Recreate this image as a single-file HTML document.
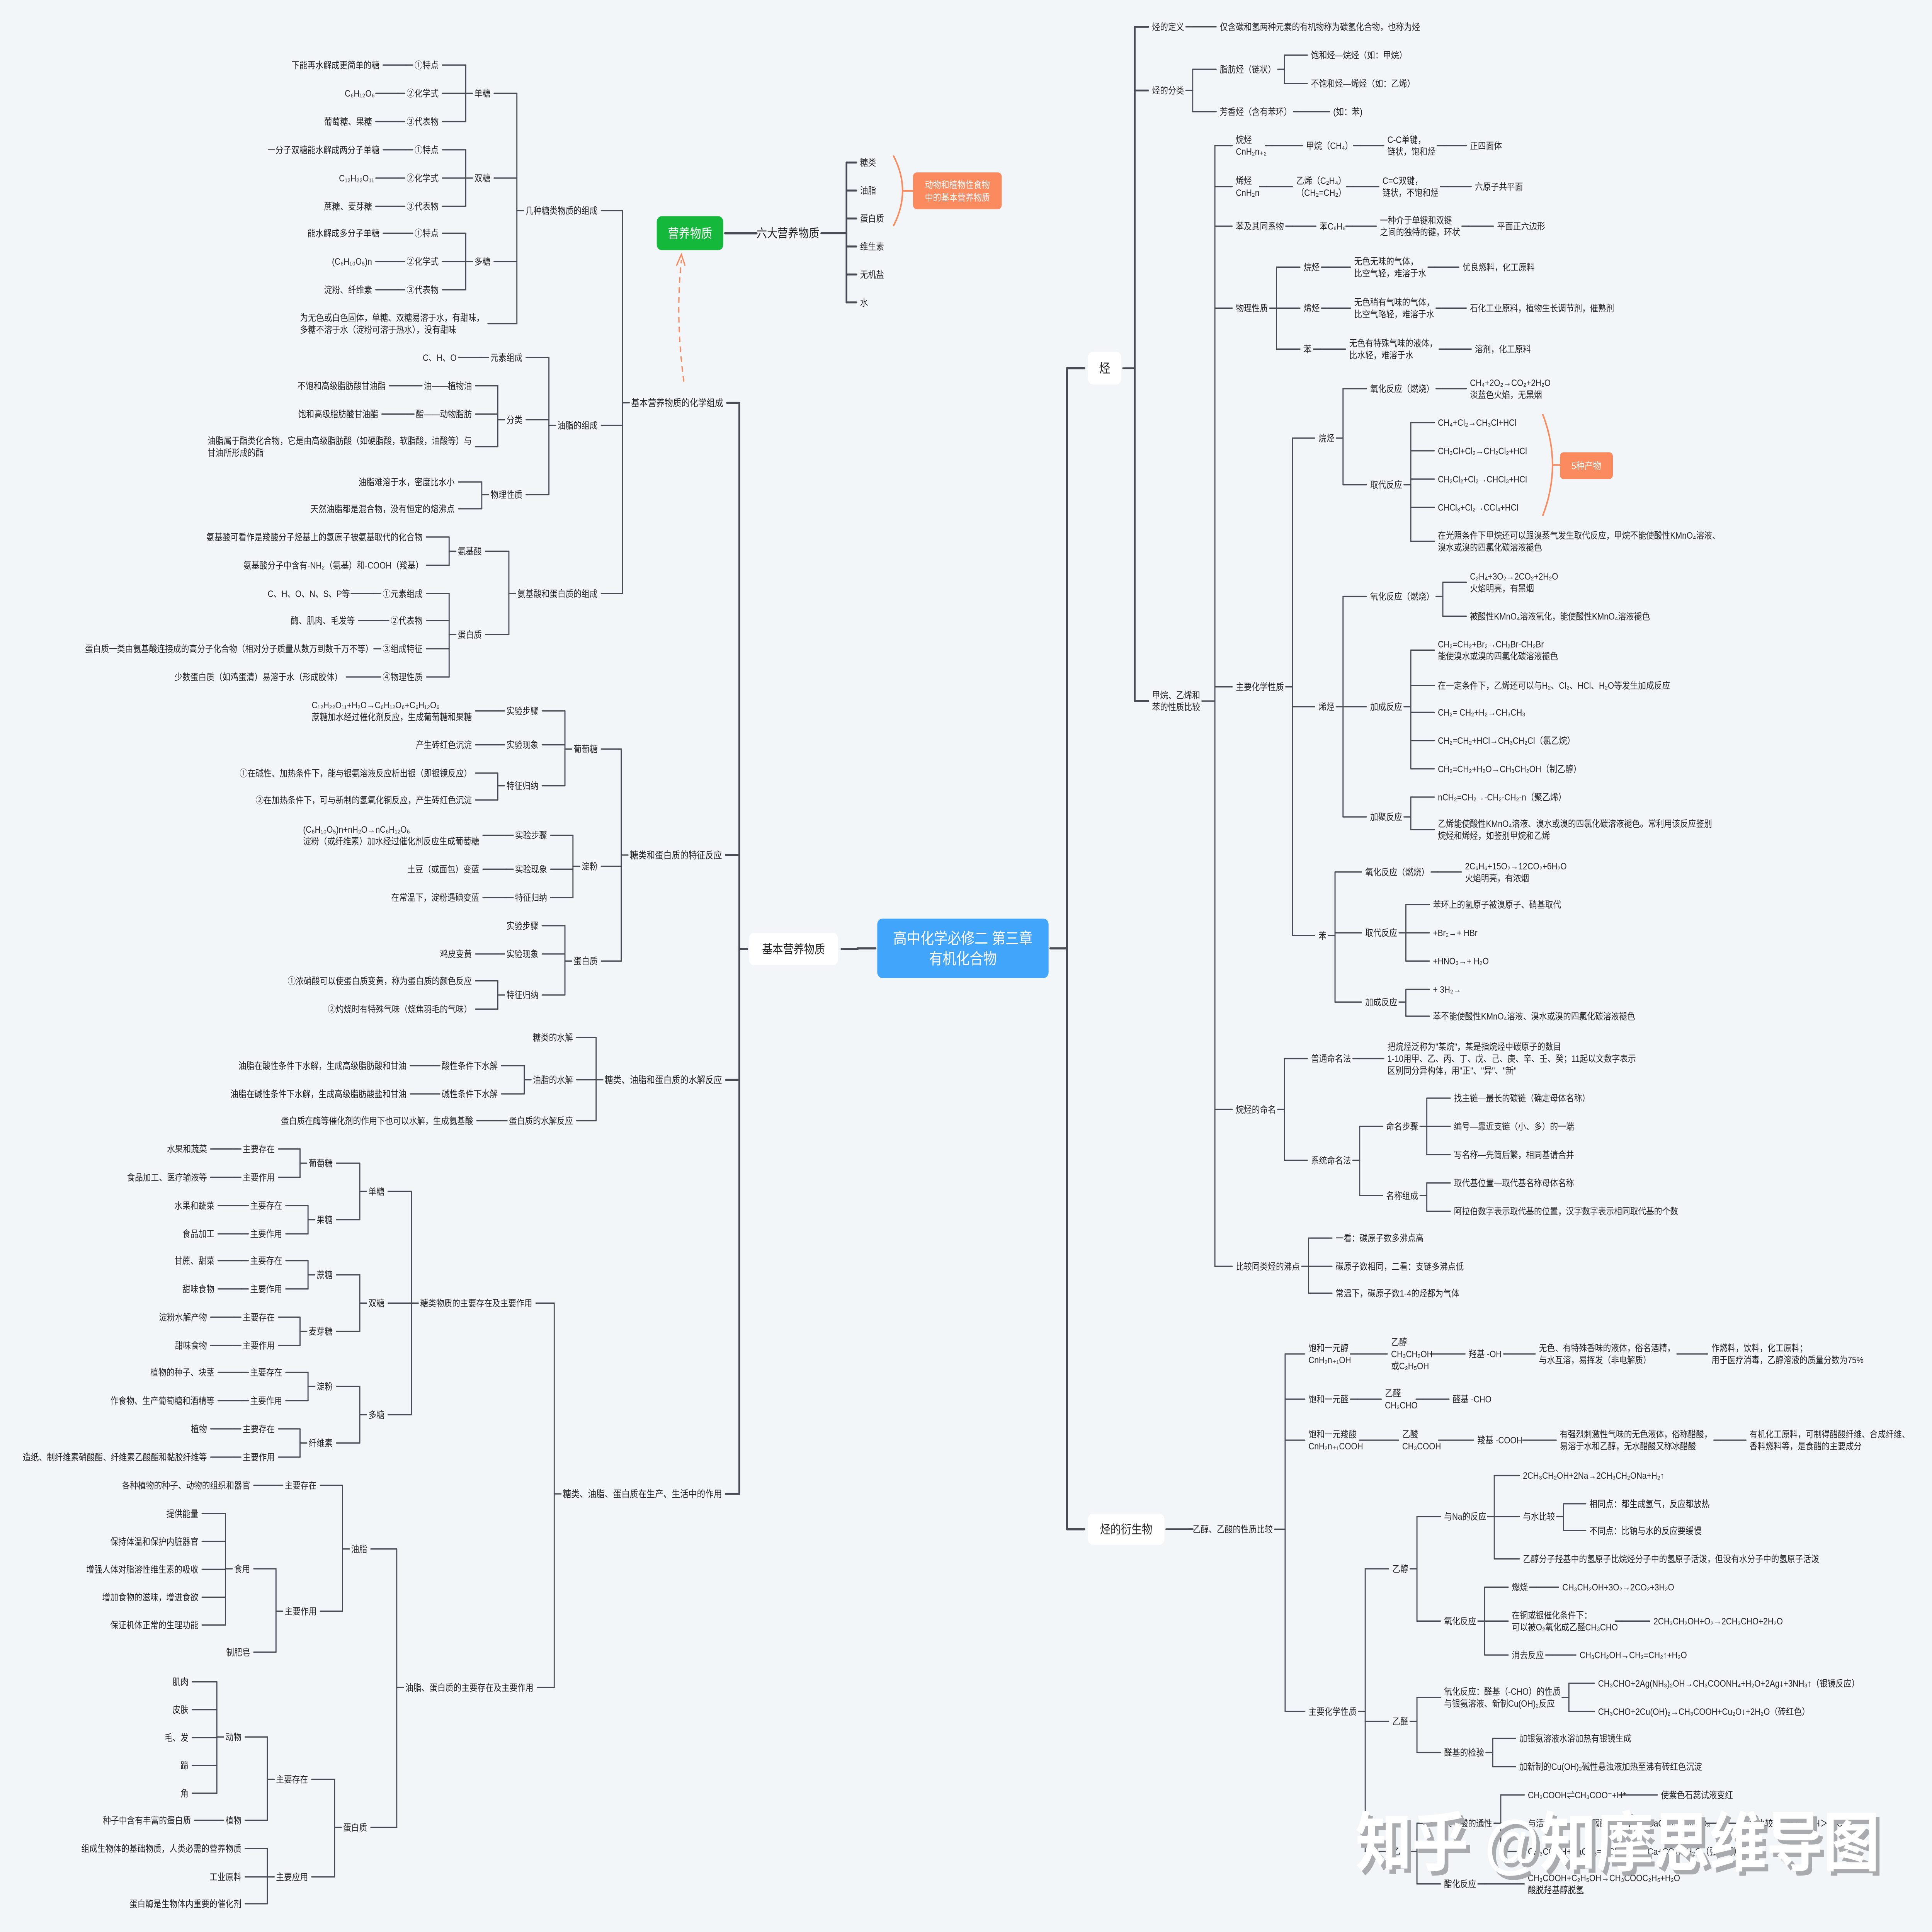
<!DOCTYPE html>
<html><head><meta charset="utf-8">
<style>
html,body{margin:0;padding:0;background:#f3f6f9;width:100%;height:100%;overflow:hidden;}
svg{display:block;position:absolute;left:0;top:0;width:100vw;height:100vh;}
text{font-family:"Liberation Sans","Noto Sans CJK SC",sans-serif;fill:#222;}
</style></head>
<body>
<svg id="s" xmlns="http://www.w3.org/2000/svg" viewBox="0 0 1568 1367" preserveAspectRatio="none">
<rect width="1568" height="1367" fill="#f3f6f9"/>
<g id="gl" fill="none" stroke="#474c55" stroke-linecap="round" stroke-linejoin="round"></g>
<g id="gt"></g>
<path d="M725,110 Q740,135 725,160" fill="none" stroke="#fb8a5e" stroke-width="1.2"/>
<path d="M733,135 H741" stroke="#fb8a5e" stroke-width="1.2"/>
<rect x="741" y="122" width="72" height="26" rx="3" fill="#fb8a5e"/>
<text x="777" y="133" font-size="6.6" text-anchor="middle" style="fill:#fff">动物和植物性食物</text>
<text x="777" y="142" font-size="6.6" text-anchor="middle" style="fill:#fff">中的基本营养物质</text>
<path d="M1252,293 Q1268,329 1252,365" fill="none" stroke="#fb8a5e" stroke-width="1.2"/>
<path d="M1260,329 H1266" stroke="#fb8a5e" stroke-width="1.2"/>
<rect x="1266" y="320" width="43" height="19" rx="3" fill="#fb8a5e"/>
<text x="1287.5" y="332" font-size="6.8" text-anchor="middle" style="fill:#fff">5种产物</text>
<path d="M555,270 Q548,225 553,184" fill="none" stroke="#fb8a5e" stroke-width="1" stroke-dasharray="4,3"/>
<path d="M549,188 L553,180 L556,188" fill="none" stroke="#fb8a5e" stroke-width="1"/>
<g font-size="46" font-weight="bold">
<text x="1103" y="1323" style="fill:#a9abae">知乎 @知摩思维导图</text>
<text x="1100" y="1320" style="fill:#ffffff">知乎 @知摩思维导图</text>
</g>
<text id="err" x="10" y="700" font-size="20" style="fill:red"></text>
</svg>
<script>
(function(){
try{
var nodes=[];
function n(p,x,y,t,o){nodes.push({p:p,x:x,y:y,t:t,o:o||{}});return nodes.length-1;}
var NS='http://www.w3.org/2000/svg';
var C=n(-1,0,671,'高中化学必修二 第三章|有机化合物',{rect:[712,650,851,692],fill:'#42a5fc',tc:'#fff',fs:11,side:'R',gapL:16,gapR:15,sw:1.6});
var B=n(C,0,671,'基本营养物质',{rect:[608,660,680,683],fill:'#fff',fs:8.5,side:'L',gap:8,sw:1.4});
var c1=n(B,587,285,'基本营养物质的化学组成',{fs:6.8});
var g1=n(c1,485,149,'几种糖类物质的组成');
var s1=n(g1,398,66,'单糖'),s2=n(g1,398,126,'双糖'),s3=n(g1,398,185,'多糖');
n(g1,393,229,'为无色或白色固体，单糖、双糖易溶于水，有甜味，|多糖不溶于水（淀粉可溶于热水），没有甜味');
n(n(s1,356,46,'①特点'),308,46,'下能再水解成更简单的糖');
n(n(s1,356,66,'②化学式'),302,66,'C₆H₁₂O₆');
n(n(s1,356,86,'③代表物'),302,86,'葡萄糖、果糖');
n(n(s2,356,106,'①特点'),308,106,'一分子双糖能水解成两分子单糖');
n(n(s2,356,126,'②化学式'),302,126,'C₁₂H₂₂O₁₁');
n(n(s2,356,146,'③代表物'),302,146,'蔗糖、麦芽糖');
n(n(s3,356,165,'①特点'),308,165,'能水解成多分子单糖');
n(n(s3,356,185,'②化学式'),302,185,'(C₆H₁₀O₅)n');
n(n(s3,356,205,'③代表物'),302,205,'淀粉、纤维素');
var g2=n(c1,485,301,'油脂的组成');
n(n(g2,424,253,'元素组成'),369,253,'C、H、O');
var fl=n(g2,424,297,'分类');
n(n(fl,383,273,'油——植物油'),313,273,'不饱和高级脂肪酸甘油酯');
n(n(fl,383,293,'酯——动物脂肪'),307,293,'饱和高级脂肪酸甘油酯');
n(fl,383,316,'油脂属于酯类化合物，它是由高级脂肪酸（如硬脂酸，软脂酸，油酸等）与|甘油所形成的酯');
var wl=n(g2,424,350,'物理性质');
n(wl,369,341,'油脂难溶于水，密度比水小');n(wl,369,360,'天然油脂都是混合物，没有恒定的熔沸点');
var g3=n(c1,485,420,'氨基酸和蛋白质的组成');
var aj=n(g3,391,390,'氨基酸');
n(aj,343,380,'氨基酸可看作是羧酸分子烃基上的氢原子被氨基取代的化合物');
n(aj,343,400,'氨基酸分子中含有-NH₂（氨基）和-COOH（羧基）');
var db=n(g3,391,449,'蛋白质');
n(n(db,343,420,'①元素组成'),282,420,'C、H、O、N、S、P等');
n(n(db,343,439,'②代表物'),288,439,'酶、肌肉、毛发等');
n(n(db,343,459,'③组成特征'),303,459,'蛋白质一类由氨基酸连接成的高分子化合物（相对分子质量从数万到数千万不等）');
n(n(db,343,479,'④物理性质'),278,479,'少数蛋白质（如鸡蛋清）易溶于水（形成胶体）');
var c2=n(B,586,605,'糖类和蛋白质的特征反应',{fs:6.8});
var pt=n(c2,485,530,'葡萄糖');
n(n(pt,437,503,'实验步骤'),383,503,'C₁₂H₂₂O₁₁+H₂O→C₆H₁₂O₆+C₆H₁₂O₆|蔗糖加水经过催化剂反应，生成葡萄糖和果糖');
n(n(pt,437,527,'实验现象'),383,527,'产生砖红色沉淀');
var tz=n(pt,437,556,'特征归纳');
n(tz,383,547,'①在碱性、加热条件下，能与银氨溶液反应析出银（即银镜反应）');
n(tz,383,566,'②在加热条件下，可与新制的氢氧化铜反应，产生砖红色沉淀');
var df=n(c2,485,613,'淀粉');
n(n(df,444,591,'实验步骤'),389,591,'(C₆H₁₀O₅)n+nH₂O→nC₆H₁₂O₆|淀粉（或纤维素）加水经过催化剂反应生成葡萄糖');
n(n(df,444,615,'实验现象'),389,615,'土豆（或面包）变蓝');
n(n(df,444,635,'特征归纳'),389,635,'在常温下，淀粉遇碘变蓝');
var db2=n(c2,485,680,'蛋白质');
n(db2,437,655,'实验步骤');
n(n(db2,437,675,'实验现象'),383,675,'鸡皮变黄');
var tz2=n(db2,437,704,'特征归纳');
n(tz2,383,694,'①浓硝酸可以使蛋白质变黄，称为蛋白质的颜色反应');
n(tz2,383,714,'②灼烧时有特殊气味（烧焦羽毛的气味）');
var c3=n(B,586,764,'糖类、油脂和蛋白质的水解反应',{fs:6.8});
n(c3,465,734,'糖类的水解');
var yz=n(c3,465,764,'油脂的水解');
n(n(yz,404,754,'酸性条件下水解'),330,754,'油脂在酸性条件下水解，生成高级脂肪酸和甘油');
n(n(yz,404,774,'碱性条件下水解'),330,774,'油脂在碱性条件下水解，生成高级脂肪酸盐和甘油');
n(n(c3,465,793,'蛋白质的水解反应'),384,793,'蛋白质在酶等催化剂的作用下也可以水解，生成氨基酸');
var c4=n(B,586,1057,'糖类、油脂、蛋白质在生产、生活中的作用',{fs:6.8});
var t1=n(c4,432,922,'糖类物质的主要存在及主要作用');
function cz(p,y,a,b,xx,lx){n(n(p,xx,y-10,'主要存在'),lx,y-10,a);n(n(p,xx,y+10,'主要作用'),lx,y+10,b);}
var d1=n(t1,312,843,'单糖');
cz(n(d1,270,823,'葡萄糖'),823,'水果和蔬菜','食品加工、医疗输液等',223,168);
cz(n(d1,270,863,'果糖'),863,'水果和蔬菜','食品加工',229,174);
var d2=n(t1,312,922,'双糖');
cz(n(d2,270,902,'蔗糖'),902,'甘蔗、甜菜','甜味食物',229,174);
cz(n(d2,270,942,'麦芽糖'),942,'淀粉水解产物','甜味食物',223,168);
var d3=n(t1,312,1001,'多糖');
cz(n(d3,270,981,'淀粉'),981,'植物的种子、块茎','作食物、生产葡萄糖和酒精等',229,174);
cz(n(d3,270,1021,'纤维素'),1021,'植物','造纸、制纤维素硝酸酯、纤维素乙酸酯和黏胶纤维等',223,168);
var t2=n(c4,433,1194,'油脂、蛋白质的主要存在及主要作用');
var yz2=n(t2,298,1096,'油脂');
n(n(yz2,257,1051,'主要存在'),203,1051,'各种植物的种子、动物的组织和器官');
var zy=n(yz2,257,1140,'主要作用');
var sy=n(zy,203,1110,'食用');
var arr1=['提供能量','保持体温和保护内脏器官','增强人体对脂溶性维生素的吸收','增加食物的滋味，增进食欲','保证机体正常的生理功能'];
for(var i=0;i<arr1.length;i++)n(sy,161,1071+i*19.7,arr1[i]);
n(zy,203,1169,'制肥皂');
var dbz=n(t2,298,1293,'蛋白质');
var zc=n(dbz,250,1259,'主要存在');
var dw=n(zc,196,1229,'动物');
var arr2=['肌肉','皮肤','毛、发','蹄','角'];
for(i=0;i<arr2.length;i++)n(dw,153,1190+i*19.7,arr2[i]);
n(n(zc,196,1288,'植物'),155,1288,'种子中含有丰富的蛋白质');
var yy=n(dbz,250,1328,'主要应用');
n(yy,196,1308,'组成生物体的基础物质，人类必需的营养物质');n(yy,196,1328,'工业原料');n(yy,196,1347,'蛋白酶是生物体内重要的催化剂');
var G=n(-1,0,165,'营养物质',{rect:[533,153,587,177],fill:'#14b83a',tc:'#fff',fs:9,side:'R',gap:27,sw:1.6});
var L6=n(G,614,165,'六大营养物质',{fs:8.5,gap:22,sw:1.4});
var arr3=['糖类','油脂','蛋白质','维生素','无机盐','水'];
for(i=0;i<arr3.length;i++)n(L6,698,115+i*19.8,arr3[i]);
var H=n(C,0,261,'烃',{rect:[883,249,910,272],fill:'#fff',fs:9,side:'R',gap:11,sw:1.3});
n(n(H,935,19,'烃的定义'),990,19,'仅含碳和氢两种元素的有机物称为碳氢化合物，也称为烃');
var fx=n(H,935,64,'烃的分类');
var zf=n(fx,990,49,'脂肪烃（链状）');
n(zf,1064,39,'饱和烃—烷烃（如：甲烷）');n(zf,1064,59,'不饱和烃—烯烃（如：乙烯）');
n(n(fx,990,79,'芳香烃（含有苯环）'),1082,79,'(如：苯)');
var bj=n(H,935,496,'甲烷、乙烯和|苯的性质比较',{gap:12});
n(n(n(n(bj,1003,103,'烷烃|CnH₂n₊₂'),1060,103,'甲烷（CH₄）'),1126,103,'C-C单键，|链状，饱和烃'),1193,103,'正四面体');
n(n(n(n(bj,1003,132,'烯烃|CnH₂n'),1052,132,'乙烯（C₂H₄）|（CH₂=CH₂）'),1122,132,'C=C双键，|链状，不饱和烃'),1197,132,'六原子共平面');
n(n(n(bj,1003,160,'苯及其同系物'),1071,160,'苯C₆H₆'),1120,160,'一种介于单键和双键|之间的独特的键，环状');
n(nodes.length-1,1215,160,'平面正六边形');
var wx=n(bj,1003,218,'物理性质');
n(n(n(wx,1058,189,'烷烃'),1099,189,'无色无味的气体，|比空气轻，难溶于水'),1187,189,'优良燃料，化工原料');
n(n(n(wx,1058,218,'烯烃'),1099,218,'无色稍有气味的气体，|比空气略轻，难溶于水'),1193,218,'石化工业原料，植物生长调节剂，催熟剂');
n(n(n(wx,1058,247,'苯'),1095,247,'无色有特殊气味的液体，|比水轻，难溶于水'),1197,247,'溶剂，化工原料');
var hx=n(bj,1003,486,'主要化学性质');
var wt=n(hx,1070,310,'烷烃');
n(n(wt,1112,275,'氧化反应（燃烧）'),1193,275,'CH₄+2O₂→CO₂+2H₂O|淡蓝色火焰，无黑烟');
var qd=n(wt,1112,343,'取代反应');
n(qd,1167,299,'CH₄+Cl₂→CH₃Cl+HCl');n(qd,1167,319,'CH₃Cl+Cl₂→CH₂Cl₂+HCl');n(qd,1167,339,'CH₂Cl₂+Cl₂→CHCl₃+HCl');n(qd,1167,359,'CHCl₃+Cl₂→CCl₄+HCl');
n(qd,1167,383,'在光照条件下甲烷还可以跟溴蒸气发生取代反应，甲烷不能使酸性KMnO₄溶液、|溴水或溴的四氯化碳溶液褪色');
var xt=n(hx,1070,500,'烯烃');
var yh=n(xt,1112,422,'氧化反应（燃烧）');
n(yh,1193,412,'C₂H₄+3O₂→2CO₂+2H₂O|火焰明亮，有黑烟');n(yh,1193,436,'被酸性KMnO₄溶液氧化，能使酸性KMnO₄溶液褪色');
var jc=n(xt,1112,500,'加成反应');
n(jc,1167,460,'CH₂=CH₂+Br₂→CH₂Br-CH₂Br|能使溴水或溴的四氯化碳溶液褪色');
n(jc,1167,485,'在一定条件下，乙烯还可以与H₂、Cl₂、HCl、H₂O等发生加成反应');
n(jc,1167,504,'CH₂= CH₂+H₂→CH₃CH₃');n(jc,1167,524,'CH₂=CH₂+HCl→CH₃CH₂Cl（氯乙烷）');n(jc,1167,544,'CH₂=CH₂+H₂O→CH₃CH₂OH（制乙醇）');
var jj=n(xt,1112,578,'加聚反应');
n(jj,1167,564,'nCH₂=CH₂→-CH₂-CH₂-n（聚乙烯）');
n(jj,1167,587,'乙烯能使酸性KMnO₄溶液、溴水或溴的四氯化碳溶液褪色。常利用该反应鉴别|烷烃和烯烃，如鉴别甲烷和乙烯');
var bn=n(hx,1070,662,'苯');
n(n(bn,1108,617,'氧化反应（燃烧）'),1189,617,'2C₆H₆+15O₂→12CO₂+6H₂O|火焰明亮，有浓烟');
var bq=n(bn,1108,660,'取代反应');
n(bq,1163,640,'苯环上的氢原子被溴原子、硝基取代');n(bq,1163,660,'+Br₂→+ HBr');n(bq,1163,680,'+HNO₃→+ H₂O');
var bjc=n(bn,1108,709,'加成反应');
n(bjc,1163,700,'+ 3H₂→');n(bjc,1163,719,'苯不能使酸性KMnO₄溶液、溴水或溴的四氯化碳溶液褪色');
var mm=n(bj,1003,785,'烷烃的命名');
n(n(mm,1064,749,'普通命名法'),1126,749,'把烷烃泛称为"某烷"，某是指烷烃中碳原子的数目|1-10用甲、乙、丙、丁、戊、己、庚、辛、壬、癸；11起以文数字表示|区别同分异构体，用"正"、"异"、"新"');
var xtm=n(mm,1064,821,'系统命名法');
var bz=n(xtm,1125,797,'命名步骤');
n(bz,1180,777,'找主链—最长的碳链（确定母体名称）');n(bz,1180,797,'编号—靠近支链（小、多）的一端');n(bz,1180,817,'写名称—先简后繁，相同基请合并');
var zcc=n(xtm,1125,846,'名称组成');
n(zcc,1180,837,'取代基位置—取代基名称母体名称');n(zcc,1180,857,'阿拉伯数字表示取代基的位置，汉字数字表示相同取代基的个数');
var fd=n(bj,1003,896,'比较同类烃的沸点');
n(fd,1084,876,'一看：碳原子数多沸点高');n(fd,1084,896,'碳原子数相同，二看：支链多沸点低');n(fd,1084,915,'常温下，碳原子数1-4的烃都为气体');
var Y=n(C,0,1082,'烃的衍生物',{rect:[883,1071,945,1093],fill:'#fff',fs:8.5,side:'R',gap:23,sw:1.3});
var yb=n(Y,968,1082,'乙醇、乙酸的性质比较',{gap:10});
n(n(n(n(n(yb,1062,958,'饱和一元醇|CnH₂n₊₁OH'),1129,958,'乙醇|CH₃CH₂OH|或C₂H₅OH'),1192,958,'羟基 -OH'),1249,958,'无色、有特殊香味的液体，俗名酒精，|与水互溶，易挥发（非电解质）'),1389,958,'作燃料，饮料，化工原料；|用于医疗消毒，乙醇溶液的质量分数为75%');
n(n(n(yb,1062,990,'饱和一元醛'),1124,990,'乙醛|CH₃CHO'),1179,990,'醛基 -CHO');
n(n(n(n(n(yb,1062,1019,'饱和一元羧酸|CnH₂n₊₁COOH'),1138,1019,'乙酸|CH₃COOH'),1199,1019,'羧基 -COOH'),1266,1019,'有强烈刺激性气味的无色液体，俗称醋酸，|易溶于水和乙醇，无水醋酸又称冰醋酸'),1420,1019,'有机化工原料，可制得醋酸纤维、合成纤维、|香料燃料等，是食醋的主要成分');
var hx2=n(yb,1062,1211,'主要化学性质');
var yc=n(hx2,1130,1110,'乙醇');
var na=n(yc,1172,1073,'与Na的反应');
n(na,1236,1044,'2CH₃CH₂OH+2Na→2CH₃CH₂ONa+H₂↑');
var sw2=n(na,1236,1073,'与水比较');
n(sw2,1290,1064,'相同点：都生成氢气，反应都放热');n(sw2,1290,1083,'不同点：比钠与水的反应要缓慢');
n(na,1236,1103,'乙醇分子羟基中的氢原子比烷烃分子中的氢原子活泼，但没有水分子中的氢原子活泼');
var yh2=n(yc,1172,1147,'氧化反应');
n(n(yh2,1227,1123,'燃烧'),1268,1123,'CH₃CH₂OH+3O₂→2CO₂+3H₂O');
n(n(yh2,1227,1147,'在铜或银催化条件下：|可以被O₂氧化成乙醛CH₃CHO'),1342,1147,'2CH₃CH₂OH+O₂→2CH₃CHO+2H₂O');
n(n(yh2,1227,1171,'消去反应'),1282,1171,'CH₃CH₂OH→CH₂=CH₂↑+H₂O');
var yq=n(hx2,1130,1218,'乙醛');
var yq1=n(yq,1172,1201,'氧化反应：醛基（-CHO）的性质|与银氨溶液、新制Cu(OH)₂反应');
n(yq1,1297,1191,'CH₃CHO+2Ag(NH₃)₂OH→CH₃COONH₄+H₂O+2Ag↓+3NH₃↑（银镜反应）');
n(yq1,1297,1211,'CH₃CHO+2Cu(OH)₂→CH₃COOH+Cu₂O↓+2H₂O（砖红色）');
var jy=n(yq,1172,1240,'醛基的检验');
n(jy,1233,1230,'加银氨溶液水浴加热有银镜生成');n(jy,1233,1250,'加新制的Cu(OH)₂碱性悬浊液加热至沸有砖红色沉淀');
var ys2=n(hx2,1130,1310,'乙酸');
var tsx=n(ys2,1172,1290,'具有酸的通性');
n(n(tsx,1240,1270,'CH₃COOH⇌CH₃COO⁻+H⁺'),1348,1270,'使紫色石蕊试液变红');
n(n(tsx,1240,1290,'与活泼金属，碱，弱酸盐反应，如CaCO₃、Na₂CO₃'),1413,1290,'酸性比较：CH₃COOH＞H₂CO₃');
n(tsx,1240,1310,'CH₃COOH+CaCO₃=2(CH₃COO)₂Ca+CO₂↑+H₂O（强制弱）');
n(n(ys2,1172,1333,'酯化反应'),1240,1333,'CH₃COOH+C₂H₅OH→CH₃COOC₂H₅+H₂O|酸脱羟基醇脱氢');

function estW(s,fs){var w=0;for(var k=0;k<s.length;k++){var c=s.charCodeAt(k);
 if(c>=0x2E80||(c>=0x2460&&c<=0x24FF)||(c>=0x2010&&c<=0x2027)||(c>=0x2190&&c<=0x21FF))w+=fs;
 else if(c>=0x2080&&c<=0x209F)w+=fs*0.36;
 else if(c>=65&&c<=90)w+=fs*0.66;
 else if(c===32)w+=fs*0.28;
 else w+=fs*0.53;}return w;}
var gt=document.getElementById('gt'),gl=document.getElementById('gl');
for(var q=0;q<nodes.length;q++){
  var nd=nodes[q];
  nd.side=nd.o.side||(nd.p>=0?nodes[nd.p].side:'R');
  var fs=nd.o.fs||6.5,lines=nd.t.split('|'),lh=fs*1.3;
  if(nd.o.rect){
    var r=nd.o.rect,re=document.createElementNS(NS,'rect');
    re.setAttribute('x',r[0]);re.setAttribute('y',r[1]);re.setAttribute('width',r[2]-r[0]);re.setAttribute('height',r[3]-r[1]);
    re.setAttribute('rx',4);re.setAttribute('fill',nd.o.fill);gt.appendChild(re);
    nd.l=r[0];nd.r=r[2];nd.y=(r[1]+r[3])/2;
  }
  var w=0;for(var j=0;j<lines.length;j++)w=Math.max(w,estW(lines[j],fs));
  var left=nd.o.rect?0:(nd.side==='L'?nd.x-w:nd.x);
  if(!nd.o.rect){nd.l=left;nd.r=left+w;}
  for(j=0;j<lines.length;j++){
    var te=document.createElementNS(NS,'text');
    te.setAttribute('font-size',fs);
    if(nd.o.tc)te.setAttribute('style','fill:'+nd.o.tc);
    var yy2=nd.y+(j-(lines.length-1)/2)*lh+fs*0.36;
    if(nd.o.rect){te.setAttribute('x',(nd.l+nd.r)/2);te.setAttribute('text-anchor','middle');}
    else te.setAttribute('x',left);
    te.setAttribute('y',yy2);
    te.textContent=lines[j];
    gt.appendChild(te);
  }
}
function line(d,sw){var p=document.createElementNS(NS,'path');p.setAttribute('d',d);p.setAttribute('stroke-width',sw);gl.appendChild(p);}
for(var pi=0;pi<nodes.length;pi++){
  var P=nodes[pi];
  var sides=['L','R'];
  for(var si=0;si<2;si++){
    var sd=sides[si],ch=[];
    for(var k2=0;k2<nodes.length;k2++)if(nodes[k2].p===pi&&nodes[k2].side===sd)ch.push(nodes[k2]);
    if(!ch.length)continue;
    var gap=(sd==='L'?P.o.gapL:P.o.gapR)||P.o.gap||7,sw=P.o.sw||0.9;
    var bx=sd==='L'?P.l-gap:P.r+gap,px=sd==='L'?P.l-1.5:P.r+1.5;
    var y0=P.y,y1=P.y;
    for(k2=0;k2<ch.length;k2++){y0=Math.min(y0,ch[k2].y);y1=Math.max(y1,ch[k2].y);}
    line('M'+px+','+P.y+'H'+bx,sw);
    if(y1>y0)line('M'+bx+','+y0+'V'+y1,sw);
    for(k2=0;k2<ch.length;k2++){var c=ch[k2];var cx=sd==='L'?c.r+3:c.l-3;line('M'+bx+','+c.y+'H'+cx,sw);}
  }
}
}catch(e){var er=document.getElementById('err');if(er)er.textContent='ERR: '+e.message;}
})();
</script>
</body></html>
